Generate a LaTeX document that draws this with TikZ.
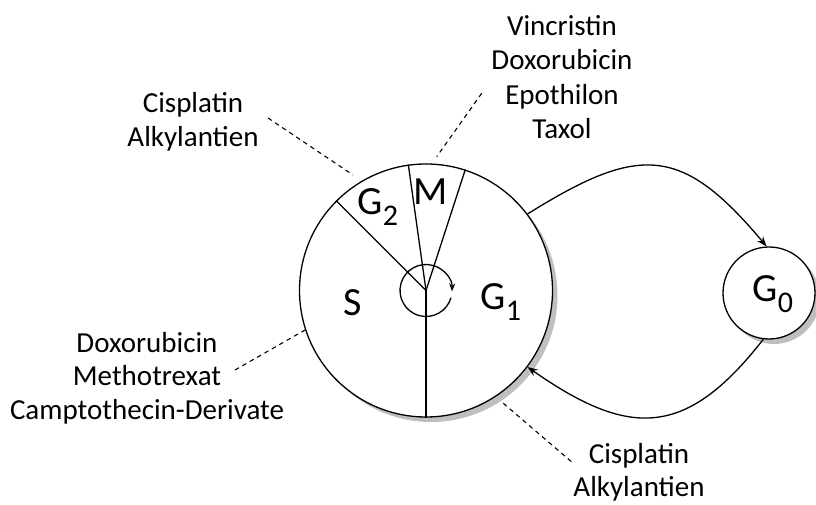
\documentclass[tikz,border=0pt]{standalone}
\usepackage{fontspec}
\setmainfont{Carlito}
\usetikzlibrary{arrows.meta}
\newcommand\lowsub[1]{\raisebox{-10.5bp}{\fontsize{30bp}{30bp}\selectfont #1}}
\begin{document}
\begin{tikzpicture}[x=1bp,y=1bp,
  line width=1.3bp,
  ring/.style={circle, draw, fill=white, inner sep=0pt, minimum size=#1},
  shadowdisc/.style={circle, fill=gray!50, inner sep=0pt, minimum size=#1},
  phase/.style={font=\fontsize{40bp}{40bp}\selectfont, inner sep=0pt, anchor=base west},
  drug/.style={font=\fontsize{29bp}{#1}\selectfont, align=center, inner sep=0pt, anchor=north},
  lead/.style={dash pattern=on 4.5bp off 4bp, line width=1.1bp},
  tip/.style={-{Stealth[length=10bp,width=7.5bp]}}
]
\useasboundingbox (0,0) rectangle (816,505);
% shadows and circles
\node[shadowdisc=253bp] (cellshadow) at (431,209.5) {};
\node[ring=253bp] (cell) at (426,214.5) {};
\node[shadowdisc=92bp] (gzeroshadow) at (774,207) {};
\node[ring=92bp] (gzero) at (769,212) {};
% phase dividers
\draw (cell.center) -- (cell.135.2);
\draw (cell.center) -- (cell.98.5);
\draw (cell.center) -- (cell.72.4);
\draw (cell.center) -- (cell.270);
% hub arrow
\draw[-{Stealth[length=8bp,width=6bp]}] (cell.center) ++(-16:26) arc[start angle=-16, end angle=-362, radius=26];
% connectors
\draw[tip] (cell.37.7) to[out=32,in=130,looseness=1.4] (gzero.93);
\draw[tip] (gzero.263) to[out=232,in=-35,looseness=1.35] (cell.-37.9);
% phase labels
\node[phase] (lS) at (343,189) {S};
\node[phase] (lGone) at (480,195) {G\lowsub{1}};
\node[phase] (lGtwo) at (357,290) {G\lowsub{2}};
\node[phase] (lM) at (413,300) {M};
\node[phase] (lGzero) at (752,203) {G\lowsub{0}};
% drug labels
\node[drug=33.5bp] (dA) at (193,413) {Cisplatin\\Alkylantien};
\node[drug=34.6bp] (dB) at (562,490.5) {Vincristin\\Doxorubicin\\Epothilon\\Taxol};
\node[drug=33.5bp] (dC) at (147,173.5) {Doxorubicin\\Methotrexat\\Camptothecin-Derivate};
\node[drug=33bp] (dD) at (639,62) {Cisplatin\\Alkylantien};
% leader lines
\coordinate (aone) at (268,387); \coordinate (atwo) at (353,330);
\coordinate (bone) at (481.7,411.7); \coordinate (btwo) at (436.7,348.3);
\coordinate (cone) at (235,135); \coordinate (ctwo) at (305,175);
\coordinate (eone) at (503.3,101.7); \coordinate (etwo) at (573.3,41.7);
\draw[lead] (aone) -- (atwo);
\draw[lead] (bone) -- (btwo);
\draw[lead] (cone) -- (ctwo);
\draw[lead] (eone) -- (etwo);
\end{tikzpicture}
\end{document}
